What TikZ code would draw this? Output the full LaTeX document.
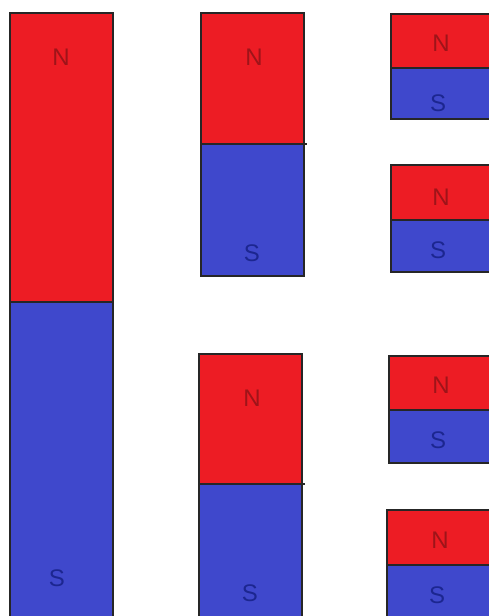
\documentclass[tikz,border=0pt]{standalone}
\usepackage{fontspec}
\setmainfont{Liberation Sans}
\usetikzlibrary{positioning}
\definecolor{magRed}{HTML}{ED1C24}
\definecolor{magBlue}{HTML}{3F48CC}
\definecolor{magRedText}{HTML}{9E1419}
\definecolor{magBlueText}{HTML}{1C2690}

\begin{document}
\begin{tikzpicture}[x=1pt,y=-1pt,
    npole/.style={draw=black!85,line width=1.2pt,fill=magRed},
    spole/.style={draw=black!85,line width=1.2pt,fill=magBlue},
    plabel/.style={font=\fontsize{24}{24}\selectfont,inner sep=0pt},
    nlabel/.style={plabel,text=magRedText},
    slabel/.style={plabel,text=magBlueText}]
  \useasboundingbox (0,0) rectangle (488,616);
  % long magnet
  \draw[npole] (10,13) rectangle (113,302);
  \draw[spole] (10,302) rectangle (113,618);
  \node[nlabel] (bigN) at (61,57) {N};
  \node[slabel] (bigS) at (57,578) {S};
  % middle column, upper half
  \draw[npole] (201,13) rectangle (304,144);
  \draw[spole] (201,144) rectangle (304,276);
  \draw[line width=1.2pt,black!85] (201,144) -- (307,144);
  \node[nlabel] (midAN) at (254,57) {N};
  \node[slabel] (midAS) at (252,253) {S};
  % middle column, lower half
  \draw[npole] (199,354) rectangle (302,484);
  \draw[spole] (199,484) rectangle (302,618);
  \draw[line width=1.2pt,black!85] (199,484) -- (305,484);
  \node[nlabel] (midBN) at (252,398) {N};
  \node[slabel] (midBS) at (250,593) {S};
  % right column, quarter pieces
  \draw[npole] (391,14) rectangle (490,68);
  \draw[spole] (391,68) rectangle (490,119);
  \node[nlabel] (rgtAN) at (441,43) {N};
  \node[slabel] (rgtAS) at (438,103) {S};
  \draw[npole] (391,165) rectangle (490,220);
  \draw[spole] (391,220) rectangle (490,272);
  \node[nlabel] (rgtBN) at (441,197) {N};
  \node[slabel] (rgtBS) at (438,250) {S};
  \draw[npole] (389,356) rectangle (490,410);
  \draw[spole] (389,410) rectangle (490,463);
  \node[nlabel] (rgtCN) at (441,385) {N};
  \node[slabel] (rgtCS) at (438,440) {S};
  \draw[npole] (387,510) rectangle (490,565);
  \draw[spole] (387,565) rectangle (490,618);
  \node[nlabel] (rgtDN) at (440,540) {N};
  \node[slabel] (rgtDS) at (437,595) {S};
\end{tikzpicture}
\end{document}
